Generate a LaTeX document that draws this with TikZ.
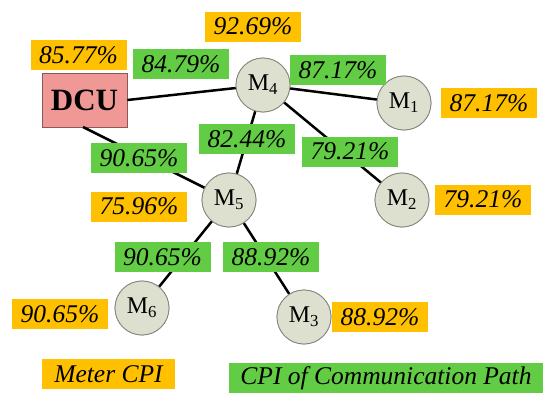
\documentclass[tikz,border=0pt]{standalone}
\usepackage{fontspec}
\setmainfont{Liberation Serif}
\newfontfamily\pctfont{Liberation Serif Italic}
\begin{document}
\begin{tikzpicture}[x=1pt,y=-1pt,
  orangelbl/.style={fill=orangec,inner sep=0pt,minimum width=96pt,minimum height=30pt,font=\pctfont\fontsize{25.5}{27}\selectfont},
  greenlbl/.style={fill=greenc,inner sep=0pt,minimum width=96pt,minimum height=30pt,font=\pctfont\fontsize{25.5}{27}\selectfont},
  meter/.style={circle,draw=circb,fill=circf,line width=0.8pt,minimum size=54pt,inner sep=0pt,font=\fontsize{24}{26}\selectfont},
  link/.style={line width=2.5pt,black}]
\definecolor{orangec}{HTML}{FFC000}
\definecolor{greenc}{HTML}{62CC44}
\definecolor{pinkc}{HTML}{F09896}
\definecolor{pinkb}{HTML}{8C5858}
\definecolor{circf}{HTML}{DDE0CF}
\definecolor{circb}{HTML}{85857A}
\useasboundingbox (0,0) rectangle (550,399);
\fill[white] (0,0) rectangle (550,399);
% nodes
\node[draw=pinkb,fill=pinkc,line width=0.8pt,minimum width=85pt,minimum height=54pt,inner sep=0pt,font=\fontsize{31}{33}\selectfont\bfseries] (dcu) at (84.5,100) {DCU};
\node[meter] (m4) at (263,85) {M\textsubscript{4}};
\node[meter] (m1) at (404,103) {M\textsubscript{1}};
\node[meter] (m2) at (402,200) {M\textsubscript{2}};
\node[meter] (m5) at (229,200) {M\textsubscript{5}};
\node[meter] (m6) at (142,308) {M\textsubscript{6}};
\node[meter] (m3) at (304,317) {M\textsubscript{3}};
\coordinate (dcub) at (83,127);
% links
\draw[link] (dcu.east) -- (m4);
\draw[link] (dcub) -- (m5);
\draw[link] (m4) -- (m1);
\draw[link] (m4) -- (m2);
\draw[link] (m4) -- (m5);
\draw[link] (m5) -- (m6);
\draw[link] (m5) -- (m3);
% redraw meters on top of links
\node[meter] at (263,85) {M\textsubscript{4}};
\node[meter] at (404,103) {M\textsubscript{1}};
\node[meter] at (402,200) {M\textsubscript{2}};
\node[meter] at (229,200) {M\textsubscript{5}};
\node[meter] at (142,308) {M\textsubscript{6}};
\node[meter] at (304,317) {M\textsubscript{3}};
% green path labels
\node[greenlbl] (g1) at (181,64) {84.79\%};
\node[greenlbl] (g2) at (338,70) {87.17\%};
\node[greenlbl] (g3) at (247,139) {82.44\%};
\node[greenlbl] (g4) at (350,151.5) {79.21\%};
\node[greenlbl] (g5) at (139,158) {90.65\%};
\node[greenlbl] (g6) at (162.5,257) {90.65\%};
\node[greenlbl] (g7) at (271,257) {88.92\%};
% orange meter labels
\node[orangelbl] (o1) at (78.5,55) {85.77\%};
\node[orangelbl] (o2) at (253,26.5) {92.69\%};
\node[orangelbl] (o3) at (489,103) {87.17\%};
\node[orangelbl] (o4) at (483,199.5) {79.21\%};
\node[orangelbl] (o5) at (139,206.5) {75.96\%};
\node[orangelbl] (o6) at (60,314) {90.65\%};
\node[orangelbl] (o7) at (380,317) {88.92\%};
% legend
\node[orangelbl,minimum width=133pt] (lm) at (108.5,374) {Meter CPI};
\node[greenlbl,minimum width=314pt] (lp) at (386,378) {CPI of Communication Path};
\end{tikzpicture}
\end{document}
